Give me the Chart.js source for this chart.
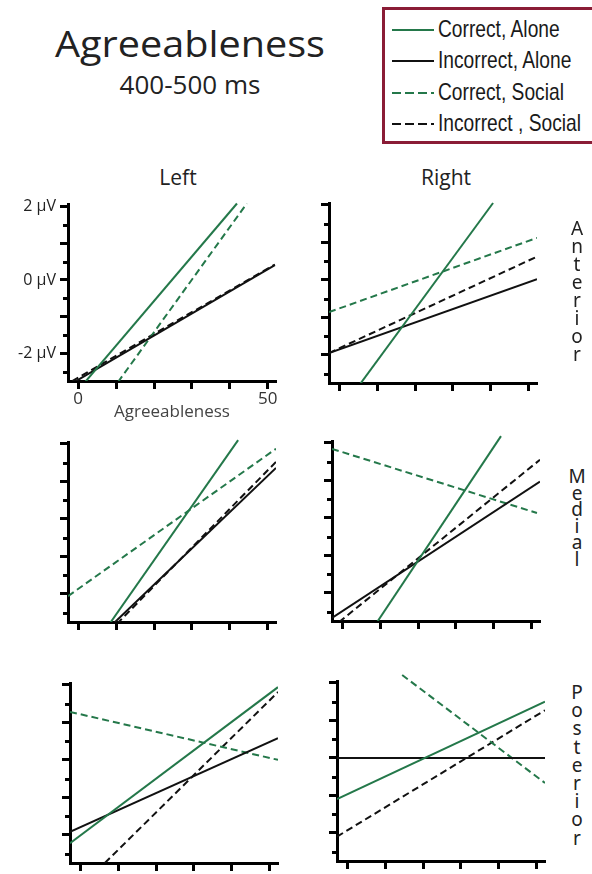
<!DOCTYPE html>
<html>
<head>
<meta charset="utf-8">
<script src="https://cdn.jsdelivr.net/npm/chart.js@4.4.1/dist/chart.umd.min.js"></script>
<style>
  html, body { margin: 0; padding: 0; background: #fff; overflow: hidden; }
  body { width: 592px; height: 874px; position: relative; font-family: 'Open Sans', sans-serif; color: #222; }
  .abs { position: absolute; white-space: nowrap; }
  #title { left: 0; width: 380px; top: 22px; text-align: center; font-size: 36px; line-height: 44px; transform: scaleX(1.1); }
  #subtitle { left: 0; width: 380px; top: 68px; text-align: center; font-size: 26px; line-height: 32px; }
  .colhead { top: 164px; width: 120px; text-align: center; font-size: 21px; line-height: 26px; }
  #legendBox { left: 382px; top: 7px; width: 213px; height: 137px; box-sizing: border-box; border: 3px solid #8a1c36; }
  .legRow { left: 392px; height: 30px; }
  .legRow svg { position: absolute; left: 0; top: 0; }
  .legRow span { position: absolute; left: 46px; top: 0; font-family: 'Liberation Sans', Arial, sans-serif; font-size: 24px; line-height: 30px; color: #1a1a1a; transform: scaleX(0.8); transform-origin: 0 50%; }
  .rowLabel { left: 565px; width: 24px; text-align: center; font-family: 'Noto Sans', sans-serif; font-size: 19px; color: #222; }
  canvas { position: absolute; }
</style>
</head>
<body>
<div id="title" class="abs">Agreeableness</div>
<div id="subtitle" class="abs">400-500 ms</div>
<div id="legendBox" class="abs"></div>
<div class="abs colhead" style="left:118px">Left</div>
<div class="abs colhead" style="left:386px">Right</div>

<canvas id="anteriorLeft" width="278" height="235" style="left:8px; top:191px"></canvas>
<canvas id="anteriorRight" width="278" height="235" style="left:269px; top:193px"></canvas>
<canvas id="medialLeft" width="278" height="235" style="left:8px; top:432px"></canvas>
<canvas id="medialRight" width="278" height="235" style="left:272px; top:431px"></canvas>
<canvas id="posteriorLeft" width="278" height="235" style="left:10px; top:673px"></canvas>
<canvas id="posteriorRight" width="278" height="235" style="left:277px; top:671px"></canvas>

<script>
// Series, in legend order
const seriesLabels = ['Correct, Alone', 'Incorrect, Alone', 'Correct, Social', 'Incorrect , Social'];
const seriesColors = ['#24784a', '#111111', '#24784a', '#111111'];
const seriesDash = [[], [], [7, 4], [7, 4]];

// Axes
const xTickValues = [0, 10, 20, 30, 40, 50];
const yMajorTicks = [-2, -1, 0, 1, 2];
const yMinorTicks = [-2.5, -1.5, -0.5, 0.5, 1.5];
const rowLabels = ['Anterior', 'Medial', 'Posterior'];

// Regression lines per panel: [[agreeableness, µV] start, [agreeableness, µV] end], series order above
const anteriorLeft = [
    [[1.8, -2.78], [41.9, 2.08]],
    [[-1.4, -2.8], [51.9, 0.40]],
    [[10.5, -2.78], [44.5, 2.08]],
    [[-1.6, -2.75], [51.9, 0.42]]
];
const anteriorRight = [
    [[5.5, -2.78], [40.6, 2.05]],
    [[-2.7, -1.95], [52.2, 0.02]],
    [[-2.7, -0.86], [52.2, 1.12]],
    [[-2.7, -1.95], [52.2, 0.62]]
];
const medialLeft = [
    [[8.4, -2.78], [42.2, 2.1]],
    [[9.2, -2.8], [52.2, 1.36]],
    [[-2.7, -2.06], [52.2, 1.87]],
    [[10.2, -2.8], [52.2, 1.52]]
];
const medialRight = [
    [[9.2, -2.78], [41.9, 2.18]],
    [[-2.7, -2.67], [52.2, 0.97]],
    [[-2.7, 1.84], [51.4, 0.13]],
    [[-0.85, -2.78], [52.2, 1.55]]
];
const posteriorLeft = [
    [[-2.7, -2.22], [52.2, 1.94]],
    [[-2.7, -1.92], [52.2, 0.58]],
    [[-2.7, 1.28], [52.2, 0.0]],
    [[6.5, -2.75], [52.2, 1.81]]
];
const posteriorRight = [
    [[-2.7, -1.1], [52.2, 1.5]],
    [[-2.7, 0], [52.2, 0]],
    [[14.5, 2.21], [52.2, -0.67]],
    [[-2.7, -2.1], [52.2, 1.27]]
];

Chart.defaults.font.family = "'Open Sans', sans-serif";

// half-step ticks on the y axis, shorter than the labelled ones
const minorTicks = {
    id: 'minorTicks',
    afterDraw(chart) {
        const y = chart.scales.y;
        const ctx = chart.ctx;
        ctx.save();
        ctx.strokeStyle = '#000';
        ctx.lineWidth = 3;
        yMinorTicks.forEach(v => {
            const py = Math.round(y.getPixelForValue(v)) + 0.5;
            ctx.beginPath();
            ctx.moveTo(y.right - 5, py);
            ctx.lineTo(y.right, py);
            ctx.stroke();
        });
        ctx.restore();
    }
};

function makePanel(id, lines, showLabels) {
    const datasets = lines.map((pts, i) => ({
        label: seriesLabels[i],
        data: pts.map(p => ({ x: p[0], y: p[1] })),
        showLine: true,
        borderColor: seriesColors[i],
        borderDash: seriesDash[i],
        borderWidth: 2,
        pointRadius: 0,
        fill: false,
        clip: { left: 0, right: 0, bottom: 0, top: 8 }
    }));

    return new Chart(document.getElementById(id), {
        type: 'scatter',
        data: { datasets },
        options: {
            responsive: false,
            animation: false,
            events: [],
            layout: { padding: { top: 10, right: 10, left: 0, bottom: 0 } },
            plugins: { legend: { display: false }, tooltip: { enabled: false } },
            scales: {
                x: {
                    type: 'linear',
                    min: -2.7,
                    max: 52.2,
                    afterFit: s => { s.height = 45; },
                    afterBuildTicks: s => { s.ticks = xTickValues.map(v => ({ value: v })); },
                    grid: { drawOnChartArea: false, drawTicks: true, tickLength: 8, tickWidth: 3, tickColor: '#000' },
                    border: { display: true, width: 3, color: '#000' },
                    ticks: {
                        display: showLabels,
                        autoSkip: false,
                        maxRotation: 0,
                        padding: 0,
                        color: '#333',
                        font: { size: 17 },
                        callback: v => (v === 0 || v === 50) ? String(v) : ''
                    },
                    title: {
                        display: showLabels,
                        text: 'Agreeableness',
                        color: '#444',
                        font: { size: 17 },
                        padding: { top: 0, bottom: 4 }
                    }
                },
                y: {
                    type: 'linear',
                    min: -2.75,
                    max: 2.05,
                    afterFit: s => { s.width = 60; },
                    afterBuildTicks: s => { s.ticks = yMajorTicks.map(v => ({ value: v })); },
                    grid: { drawOnChartArea: false, drawTicks: true, tickLength: 8, tickWidth: 3, tickColor: '#000' },
                    border: { display: true, width: 3, color: '#000' },
                    ticks: {
                        display: showLabels,
                        autoSkip: false,
                        padding: 4,
                        color: '#222',
                        font: { size: 16 },
                        callback: v => (v === 2 || v === 0 || v === -2) ? v + ' \u00b5V' : ''
                    }
                }
            }
        },
        plugins: [minorTicks]
    });
}

makePanel('anteriorLeft', anteriorLeft, true);
makePanel('anteriorRight', anteriorRight, false);
makePanel('medialLeft', medialLeft, false);
makePanel('medialRight', medialRight, false);
makePanel('posteriorLeft', posteriorLeft, false);
makePanel('posteriorRight', posteriorRight, false);

// legend rows
const legendTops = [14, 45, 77, 108];
seriesLabels.forEach((label, i) => {
    const row = document.createElement('div');
    row.className = 'abs legRow';
    row.style.top = legendTops[i] + 'px';
    const dash = seriesDash[i].length ? 'stroke-dasharray="9 4"' : '';
    row.innerHTML = `<svg width="44" height="30"><line x1="0" y1="16" x2="42" y2="16" stroke="${seriesColors[i]}" stroke-width="2" ${dash}/></svg><span>${label}</span>`;
    document.body.appendChild(row);
});

// stacked row labels on the right
const rowLabelTops = [219, 468, 683];
const rowLabelSteps = [18, 16.5, 18.2];
rowLabels.forEach((word, i) => {
    const el = document.createElement('div');
    el.className = 'abs rowLabel';
    el.style.top = rowLabelTops[i] + 'px';
    el.innerHTML = word.split('').map(ch => `<div style="height:${rowLabelSteps[i]}px;line-height:${rowLabelSteps[i]}px">${ch}</div>`).join('');
    document.body.appendChild(el);
});
</script>
</body>
</html>
